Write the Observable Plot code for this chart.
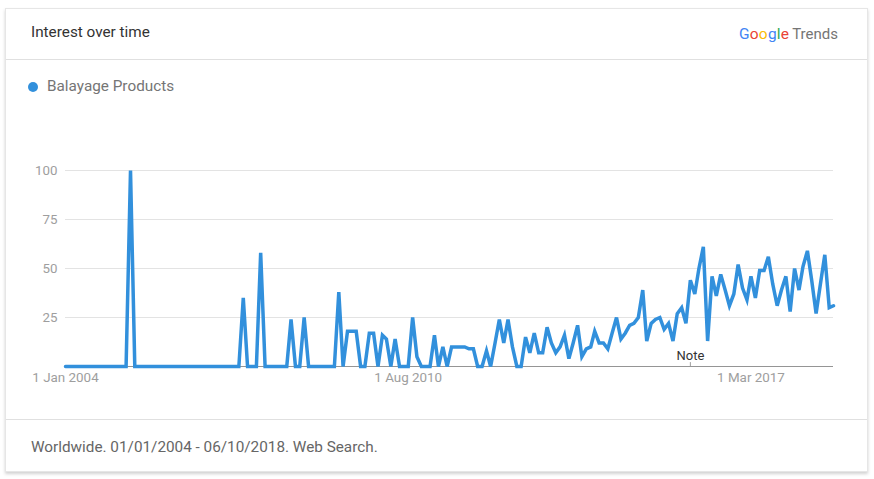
<!DOCTYPE html>
<html>
<head>
<meta charset="utf-8">
<script src="https://cdn.jsdelivr.net/npm/d3@7"></script>
<script src="https://cdn.jsdelivr.net/npm/@observablehq/plot@0.6"></script>
<style>
  html, body { margin: 0; padding: 0; background: #fff; }
  body { width: 874px; height: 479px; position: relative; overflow: hidden; font-family: Roboto, "Open Sans", sans-serif; }
  #card { position: absolute; left: 5px; top: 8px; width: 863px; height: 464px; box-sizing: border-box;
          border: 1px solid #e6e6e6; background: #fff; box-shadow: 0 2px 3px rgba(0,0,0,0.18); }
  .hr { position: absolute; left: 6px; width: 861px; height: 1px; background: #e0e0e0; }
  #title { position: absolute; left: 31px; top: 23px; font-size: 15.3px; color: #333; line-height: 18px; }
  #logo { position: absolute; right: 36px; top: 24px; font-size: 15px; line-height: 20px; white-space: nowrap; }
  #logo .g { font-size: 15.5px; letter-spacing: 0.2px; }
  #logo .t { color: #757575; margin-left: 3px; }
  #legend { position: absolute; left: 28px; top: 77px; font-size: 15.3px; color: #757575; line-height: 18px; }
  #legend .dot { display: inline-block; width: 10px; height: 10px; border-radius: 50%; vertical-align: -1px; margin-right: 9px; }
  #chart { position: absolute; left: 0; top: 150px; }
  #footer { position: absolute; left: 31px; top: 438px; font-size: 15.3px; color: #666; line-height: 18px; }
</style>
</head>
<body>
<div id="card"></div>
<div id="title"></div>
<div id="logo"></div>
<div class="hr" style="top:59px"></div>
<div id="legend"></div>
<div id="chart"></div>
<div class="hr" style="top:419px"></div>
<div id="footer"></div>
<script>
// ---- data (monthly, Jan 2004 – Oct 2018) ----
const titleText = "Interest over time";
const seriesName = "Balayage Products";
const footerText = "Worldwide. 01/01/2004 - 06/10/2018. Web Search.";
const startMonth = "2004-01-01";
const interest = [
  0,0,0,0,0,0,0,0,0,0,0,0,            // 2004
  0,0,0,100,0,0,0,0,0,0,0,0,          // 2005
  0,0,0,0,0,0,0,0,0,0,0,0,            // 2006
  0,0,0,0,0,35,0,0,0,58,0,0,          // 2007
  0,0,0,0,24,0,0,25,0,0,0,0,          // 2008
  0,0,0,38,0,18,18,18,0,0,17,17,      // 2009
  0,16,14,0,14,0,0,0,25,5,0,0,        // 2010
  0,16,0,10,0,10,10,10,10,9,9,0,      // 2011
  0,8,0,12,24,12,24,10,0,0,15,7,      // 2012
  17,7,7,20,12,7,10,16,4,12,21,5,     // 2013
  9,10,18,12,12,9,17,25,14,17,21,22,  // 2014
  25,39,13,22,24,25,19,22,13,27,30,22,// 2015
  44,37,50,61,13,46,36,47,39,31,37,52,// 2016
  40,34,46,35,49,49,56,42,31,39,46,28,// 2017
  50,39,51,59,44,27,42,57,30,31       // 2018
];
const xTickDates = ["2004-01-01", "2010-08-01", "2017-03-01"];
const xTickLabels = ["1 Jan 2004", "1 Aug 2010", "1 Mar 2017"];
const yTicks = [25, 50, 75, 100];
const noteDates = ["2016-01-01"];
const noteLabels = ["Note"];
const lineColor = "#3290dc";

// ---- header / legend / footer ----
document.getElementById("title").textContent = titleText;
document.getElementById("footer").textContent = footerText;
const logo = document.getElementById("logo");
const gl = [["G","#4285f4"],["o","#ea4335"],["o","#fbbc05"],["g","#4285f4"],["l","#34a853"],["e","#ea4335"]];
const gspan = document.createElement("span"); gspan.className = "g";
gl.forEach(([c, col]) => { const s = document.createElement("span"); s.textContent = c; s.style.color = col; gspan.appendChild(s); });
logo.appendChild(gspan);
const tspan = document.createElement("span"); tspan.className = "t"; tspan.textContent = "Trends"; logo.appendChild(tspan);
const legend = document.getElementById("legend");
const dot = document.createElement("span"); dot.className = "dot"; dot.style.background = lineColor;
legend.appendChild(dot); legend.appendChild(document.createTextNode(seriesName));

// ---- chart ----
const start = new Date(startMonth);
const data = interest.map((v, i) => ({date: d3.utcMonth.offset(start, i), value: v}));
const tickDates = xTickDates.map(d => new Date(d));
const labelOf = new Map(tickDates.map((d, i) => [+d, xTickLabels[i]]));
const notes = noteDates.map((d, i) => ({date: new Date(d), label: noteLabels[i]}));

const chart = Plot.plot({
  width: 874,
  height: 250,
  marginLeft: 65,
  marginRight: 41,
  marginTop: 20,
  marginBottom: 34,
  style: {fontFamily: "Roboto, sans-serif", fontSize: "13px", background: "transparent", overflow: "visible"},
  x: {type: "utc", domain: [data[0].date, data[data.length - 1].date]},
  y: {domain: [0, 100]},
  marks: [
    Plot.gridY(yTicks, {stroke: "#e3e3e3", strokeOpacity: 1}),
    Plot.axisY(yTicks, {tickSize: 0, tickPadding: 8, fill: "#9e9e9e", fontSize: 13.3, label: null}),
    Plot.axisX(tickDates, {tickSize: 0, tickPadding: 6, fill: "#9e9e9e", fontSize: 13.4, label: null,
                           tickFormat: d => labelOf.get(+d)}),
    Plot.ruleY([0], {stroke: "#959595", strokeWidth: 1}),
    Plot.ruleX(notes, {x: "date", y1: 0, y2: 2, stroke: "#9e9e9e"}),
    Plot.text(notes, {x: "date", y: 0, text: "label", dy: -11, fill: "#333", fontSize: 13}),
    Plot.lineY(data, {x: "date", y: "value", stroke: lineColor, strokeWidth: 3.5,
                      strokeLinejoin: "miter", strokeMiterlimit: 4})
  ]
});
document.getElementById("chart").appendChild(chart);
</script>
</body>
</html>
